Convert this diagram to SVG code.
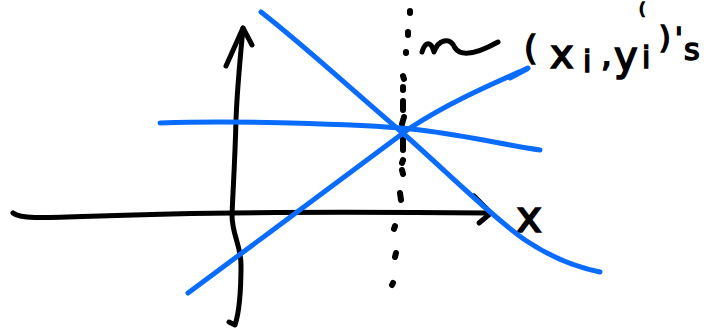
<svg xmlns="http://www.w3.org/2000/svg" width="704" height="333" viewBox="0 0 704 333">
<style>
.ink{fill:none;stroke:#000;stroke-width:5;stroke-linecap:round;stroke-linejoin:round}
.dot{fill:none;stroke:#000;stroke-width:6;stroke-linecap:round}
.blue{fill:none;stroke:#0a6cff;stroke-width:5;stroke-linecap:round;stroke-linejoin:round}
.hand{font-family:"DejaVu Sans","Liberation Sans",sans-serif;fill:#000;stroke:#000;stroke-width:1.6}
</style>
<rect width="704" height="333" fill="#fff"/>
<g id="axes">
<path id="y-axis" class="ink" d="M243,28 C240,60 237,90 236,120 C235,160 233,190 232,215 C232,235 241,245 241,265 C241,290 240,310 235,325 M235,325 L229,322"/>
<path id="y-arrow" class="ink" d="M226,66 L243,28 L252,45"/>
<path id="x-axis" class="ink" d="M13,213 C20,219 40,218 100,216 C200,212 380,212 490,213"/>
<path id="x-arrow" class="ink" d="M474,196 L491,213 L479,223"/>
<text id="x-label" class="hand" x="516" y="232" font-size="44">x</text>
</g>
<g id="dotted-line">
<path class="dot" d="M410,11 L410,13 M408,32 L408,35 M406,52 L406,53 M403,76 L404,79 M403,87 L403,90 M403,101 L403,110 M404,117 L402,124 M403,128 L403,150 M403,160 L402,163 M402,170 L403,174 M400,193 L401,200 M395,226 L394,229 M396,253 L395,257 M393,283 L392,285"/>
</g>
<g id="lines">
<path class="blue" d="M261,12 C300,42 350,88 405,135 C450,175 490,215 525,240 C555,260 580,268 600,272"/>
<path class="blue" d="M160,123 C250,120 380,125 420,130 C470,136 510,146 540,150"/>
<path class="blue" d="M188,293 C260,240 350,172 410,128 C450,102 490,85 528,68"/>
<path class="blue" stroke-width="8" d="M510,78 L527,69"/>
</g>
<g id="annotation">
<path class="ink" d="M422,52 C425,42 431,40 434,52 C438,40 450,36 455,48 C462,58 480,52 498,42"/>
<text class="hand" font-size="34"><tspan x="524" y="60">(</tspan><tspan x="550" y="68" font-size="40">x</tspan><tspan x="583" y="72" font-size="30">i</tspan><tspan x="601" y="66">,</tspan><tspan x="614" y="70" font-size="40">y</tspan><tspan x="642" y="68" font-size="30">i</tspan><tspan x="659" y="48" font-size="30">)</tspan><tspan x="675" y="48" font-size="28">'</tspan><tspan x="684" y="60" font-size="30">s</tspan></text>
<text class="hand" x="639" y="14" font-size="16">(</text>
</g>
</svg>
